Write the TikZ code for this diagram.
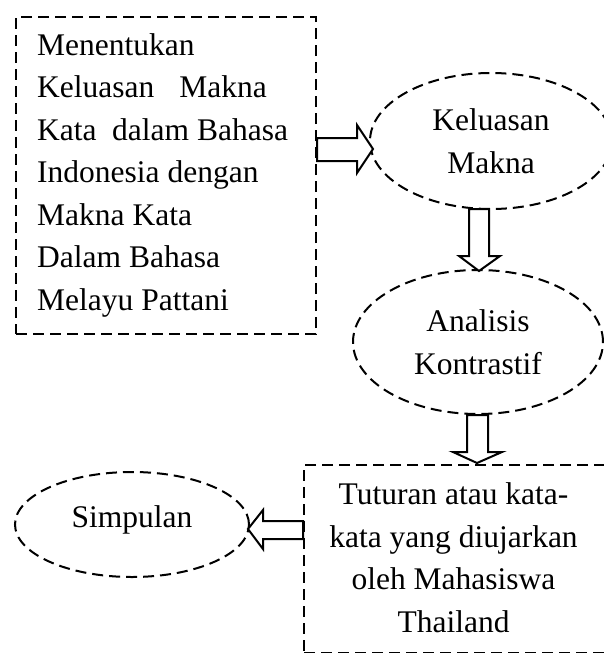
\documentclass[tikz,border=0pt]{standalone}
\usepackage{fontspec}
\setmainfont{Liberation Serif}
\usetikzlibrary{shapes.geometric}
\tikzset{
  dsh/.style={line width=2pt, dash pattern=on 11pt off 6pt},
  boxnode/.style={dsh, draw, rectangle, inner sep=0pt, anchor=north west},
  ellnode/.style={dsh, draw, ellipse, inner sep=0pt, align=center,
    font=\fontsize{31.5}{42.5}\selectfont},
  txt/.style={inner sep=0pt, font=\fontsize{31.5}{42.5}\selectfont},
  blk/.style={draw, fill=white, line width=2pt, line join=miter}
}
\begin{document}
\begin{tikzpicture}[x=1pt,y=-1pt]
\useasboundingbox (0,0) rectangle (604,653);
% box 1
\node[boxnode, minimum width=300pt, minimum height=317pt] (box1) at (15,16) {};
\node[txt, anchor=base west, align=left] (box1text) at (37,310)
  {Menentukan\\Keluasan\hspace{25pt}Makna\\Kata\hspace{15.5pt}dalam Bahasa\\Indonesia dengan\\Makna Kata\\Dalam Bahasa\\Melayu Pattani};
% ellipses
\node[ellnode, minimum width=242pt, minimum height=136pt] (kel) at (491,141) {Keluasan\\Makna};
\node[ellnode, minimum width=250pt, minimum height=144pt] (ana) at (478,342) {Analisis\\Kontrastif};
\node[ellnode, minimum width=234pt, minimum height=105pt] (sim) at (132,524.5) {\raisebox{-2.5pt}[0pt][0pt]{Simpulan}};
% box 2
\node[boxnode, minimum width=303pt, minimum height=188pt] (box2) at (303,464) {};
\node[txt, align=center, anchor=base] (box2text) at (453.5,632)
  {Tuturan atau kata-\\kata yang diujarkan\\oleh Mahasiswa\\Thailand};
% block arrows
\draw[blk] (box1.east |- 0,138) -- (357,138) -- (357,125) -- (373,149) -- (357,173) -- (357,161) -- (box1.east |- 0,161) -- cycle;
\draw[blk] (469,209) -- (469,256) -- (459,256) -- (479,271) -- (500,256) -- (489,256) -- (489,209) -- cycle;
\draw[blk] (467,415) -- (467,452) -- (453,452) -- (477,463) -- (502,452) -- (488,452) -- (488,415) -- cycle;
\draw[blk] (box2.west |- 0,521) -- (263,521) -- (263,510) -- (248,529) -- (263,549) -- (263,539) -- (box2.west |- 0,539) -- cycle;
\end{tikzpicture}
\end{document}
